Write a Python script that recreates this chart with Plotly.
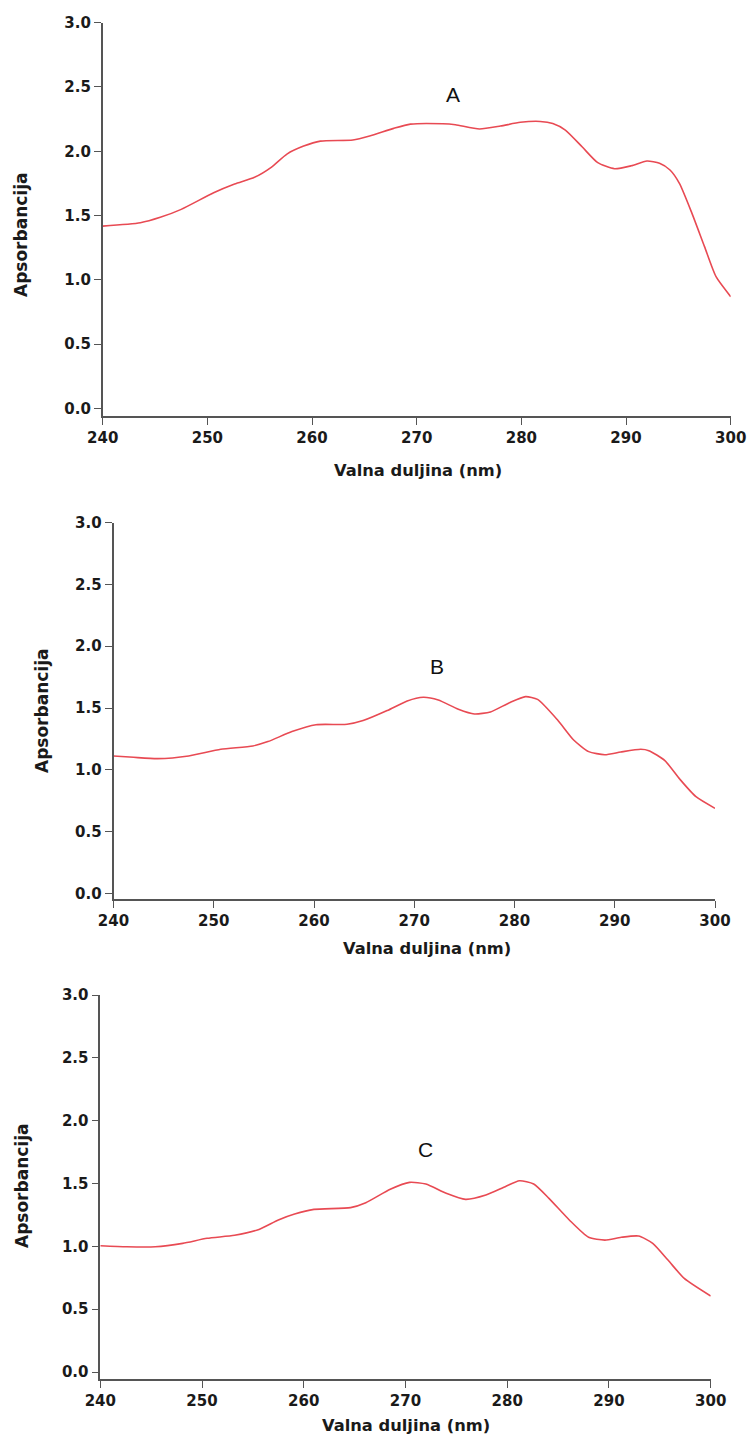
import plotly.graph_objects as go

# ---- data ----
wl_A = [240.0, 243.6, 245.5, 247.5, 250.6, 252.6, 254.5, 256.1, 257.6, 259.2, 260.8, 263.9, 265.5,
        267.8, 269.4, 272.5, 273.7, 276.0, 278.0, 279.9, 281.8, 283.0, 284.2, 285.8, 287.3, 288.9,
        290.5, 292.0, 293.2, 294.2, 295.1, 296.3, 297.5, 298.6, 300.0]
abs_A = [1.418, 1.444, 1.486, 1.548, 1.677, 1.745, 1.797, 1.875, 1.978, 2.040, 2.079, 2.087, 2.118,
         2.178, 2.211, 2.214, 2.206, 2.173, 2.196, 2.225, 2.232, 2.216, 2.165, 2.035, 1.911, 1.864,
         1.887, 1.924, 1.906, 1.854, 1.750, 1.517, 1.258, 1.024, 0.869]

wl_B = [240.0, 242.0, 244.4, 247.5, 250.7, 253.9, 255.4, 257.8, 260.2, 263.3, 264.9, 267.3, 269.3,
        270.9, 272.4, 274.4, 276.0, 277.6, 279.5, 281.1, 282.3, 284.3, 285.9, 287.4, 289.0, 290.6,
        292.6, 293.4, 295.0, 296.5, 298.1, 300.0]
abs_B = [1.112, 1.101, 1.090, 1.112, 1.166, 1.193, 1.228, 1.309, 1.365, 1.368, 1.398, 1.479, 1.557,
         1.587, 1.565, 1.490, 1.452, 1.468, 1.543, 1.592, 1.570, 1.403, 1.241, 1.147, 1.122, 1.144,
         1.166, 1.155, 1.074, 0.923, 0.782, 0.688]

wl_C = [240.0, 242.6, 245.4, 248.1, 250.5, 253.2, 255.6, 257.5, 259.1, 261.0, 264.6, 266.1, 268.5,
        270.4, 272.0, 274.0, 275.9, 277.9, 279.8, 281.2, 282.6, 284.1, 286.1, 288.0, 289.6, 291.2,
        292.9, 294.3, 295.8, 297.4, 300.0]
abs_C = [1.005, 0.997, 0.997, 1.024, 1.064, 1.088, 1.135, 1.210, 1.257, 1.294, 1.308, 1.347, 1.454,
         1.509, 1.496, 1.422, 1.374, 1.408, 1.475, 1.522, 1.496, 1.382, 1.210, 1.072, 1.050, 1.072,
         1.082, 1.024, 0.891, 0.745, 0.605]

panel_labels = ["A", "B", "C"]
x_title = "Valna duljina (nm)"
y_title = "Apsorbancija"
x_ticks = [240, 250, 260, 270, 280, 290, 300]
y_ticks = [0.0, 0.5, 1.0, 1.5, 2.0, 2.5, 3.0]

# ---- layout geometry ----
W, H = 750, 1443
panels = [
    dict(x0=102.7, x1=730.7, ytop=22.7, ybot=415.7, ymin=-0.057,
         lab=(273.5, 2.445), xt=(418, 470), yt=(21, 235)),
    dict(x0=113.5, x1=715.0, ytop=522.7, ybot=899.0, ymin=-0.046,
         lab=(272.3, 1.832), xt=(427, 948), yt=(42, 711)),
    dict(x0=100.3, x1=710.7, ytop=995.0, ybot=1378.7, ymin=-0.053,
         lab=(272.0, 1.767), xt=(406, 1425), yt=(22, 1186)),
]
data = [(wl_A, abs_A), (wl_B, abs_B), (wl_C, abs_C)]

line_col = "#e84a53"
axis_col = "#555555"
tick_font = dict(family="DejaVu Sans", size=15, color="#1a1a1a")
xtitle_font = dict(family="DejaVu Sans", size=16.3, color="#1a1a1a")
ytitle_font = dict(family="DejaVu Sans", size=17, color="#1a1a1a")

fig = go.Figure()
annotations = []
for i, (p, (xs, ys)) in enumerate(zip(panels, data)):
    n = "" if i == 0 else str(i + 1)
    fig.add_trace(go.Scatter(x=xs, y=ys, mode="lines", xaxis="x" + n, yaxis="y" + n,
                             line=dict(color=line_col, width=1.6, shape="spline", smoothing=0.6),
                             showlegend=False, hoverinfo="skip"))
    xa = dict(domain=[p["x0"] / W, p["x1"] / W], range=[240, 300], anchor="y" + n,
              tickvals=x_ticks, ticktext=[f"<b>{v}</b>" for v in x_ticks], automargin=False,
              showline=True, linecolor=axis_col, linewidth=1.6, ticks="outside", ticklen=7,
              tickwidth=1.4, tickcolor=axis_col, showgrid=False, zeroline=False,
              tickfont=tick_font, fixedrange=True)
    ya = dict(domain=[1 - p["ybot"] / H, 1 - p["ytop"] / H], range=[p["ymin"], 3.0],
              anchor="x" + n, tickvals=y_ticks, ticktext=[f"<b>{v:.1f}</b>" for v in y_ticks],
              automargin=False,
              showline=True, linecolor=axis_col, linewidth=1.6, ticks="outside", ticklen=7,
              tickwidth=1.4, tickcolor=axis_col, showgrid=False, zeroline=False,
              tickfont=tick_font, fixedrange=True)
    fig.update_layout({"xaxis" + n: xa, "yaxis" + n: ya})
    annotations.append(dict(text=panel_labels[i], x=p["lab"][0], y=p["lab"][1],
                            xref="x" + n, yref="y" + n, showarrow=False,
                            font=dict(family="Liberation Sans", size=21, color="#111111")))
    annotations.append(dict(text=f"<b>{x_title}</b>", x=p["xt"][0] / W, y=1 - p["xt"][1] / H,
                            xref="paper", yref="paper", showarrow=False,
                            xanchor="center", yanchor="middle", font=xtitle_font))
    annotations.append(dict(text=f"<b>{y_title}</b>", x=p["yt"][0] / W, y=1 - p["yt"][1] / H,
                            xref="paper", yref="paper", showarrow=False, textangle=-90,
                            xanchor="center", yanchor="middle", font=ytitle_font))

fig.update_layout(width=W, height=H, margin=dict(l=0, r=0, t=0, b=0),
                  paper_bgcolor="white", plot_bgcolor="white", annotations=annotations)

fig.write_html("out.html", config={"displayModeBar": False},
               post_script="document.body.style.margin='0';document.body.style.padding='0';"
                           "document.body.style.overflow='hidden';")
